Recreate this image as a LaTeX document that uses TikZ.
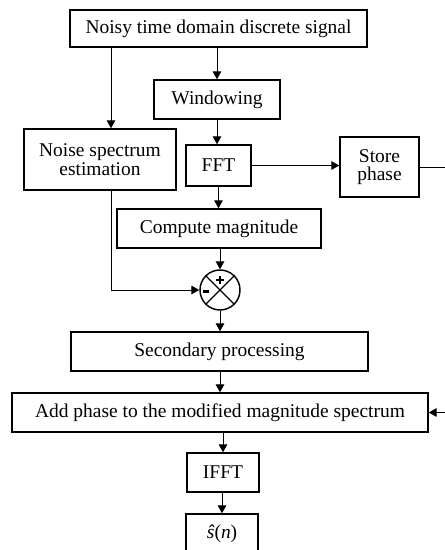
\documentclass[tikz,border=0pt]{standalone}
\usepackage{fontspec}
\setmainfont{Liberation Serif}
\usetikzlibrary{arrows.meta}

\begin{document}
\begin{tikzpicture}[x=0.75pt,y=-0.75pt,line join=miter,
  blk/.style={draw,line width=1.1pt,inner sep=0pt,align=center,font=\fontsize{14.6}{14}\selectfont},
  con/.style={line width=0.75pt,-{Triangle[length=6pt,width=6.5pt]}}]
\clip (0,0) rectangle (445,550);
% processing blocks
\node[blk,minimum width=222.75pt,minimum height=27.75pt] (sig) at (218.5,28.5) {Noisy time domain discrete signal};
\node[blk,minimum width=94.5pt,minimum height=29.25pt] (win) at (217,99.5) {Windowing};
\node[blk,minimum width=114pt,minimum height=45.75pt] (noise) at (100,159.5) {Noise spectrum\\estimation};
\node[blk,minimum width=59.25pt,minimum height=45pt] (store) at (379.5,167) {Store\\phase};
\node[blk,minimum width=48.75pt,minimum height=30.75pt] (fft) at (218.5,165.5) {FFT};
\node[blk,minimum width=153pt,minimum height=29.25pt] (mag) at (219,228.5) {Compute magnitude};
\node[draw,circle,line width=1.1pt,minimum size=30pt,inner sep=0pt] (sum) at (220,290) {};
\node[blk,minimum width=222.75pt,minimum height=29.25pt] (sec) at (219.5,351.5) {Secondary processing};
\node[blk,minimum width=312pt,minimum height=29.25pt] (add) at (220,412.5) {Add phase to the modified magnitude spectrum};
\node[blk,minimum width=54pt,minimum height=29.25pt] (ifft) at (223,472.5) {IFFT};
\node[blk,minimum width=54pt,minimum height=30pt] (shat) at (222,534) {\textit{ŝ}(\textit{n})};
% subtraction node
\draw[line width=0.9pt] (sum.north west) -- (sum.south east);
\draw[line width=0.9pt] (sum.north east) -- (sum.south west);
\draw[line width=1.8pt] ([xshift=-2.8pt,yshift=7.5pt]sum.center) -- ++(5.6pt,0);
\draw[line width=1.8pt] ([yshift=4.7pt]sum.center) -- ++(0,5.6pt);
\draw[line width=1.8pt] ([xshift=-13pt,yshift=-1pt]sum.center) -- ++(5pt,0);
% connectors
\coordinate (tap) at (111,0);
\draw[con] (sig.south -| win.north) -- (win.north);
\draw[con] (sig.south -| tap) -- (noise.north -| tap);
\draw[con] (win.south) -- (win.south |- fft.north);
\draw[con] (fft.east) -- (fft.east -| store.west);
\draw[con] (fft.south) -- (fft.south |- mag.north);
\draw[con] (mag.south -| sum.north) -- (sum.north);
\draw[con] (noise.south -| tap) |- (sum.west);
\draw[con] (sum.south) -- (sum.south |- sec.north);
\draw[con] (sec.south -| add.north) -- (add.north);
\draw[con] (store.east) -- ++(30,0) |- (add.east);
\draw[con] (add.south -| ifft.north) -- (ifft.north);
\draw[con] (ifft.south -| shat.north) -- (shat.north);
\end{tikzpicture}
\end{document}
